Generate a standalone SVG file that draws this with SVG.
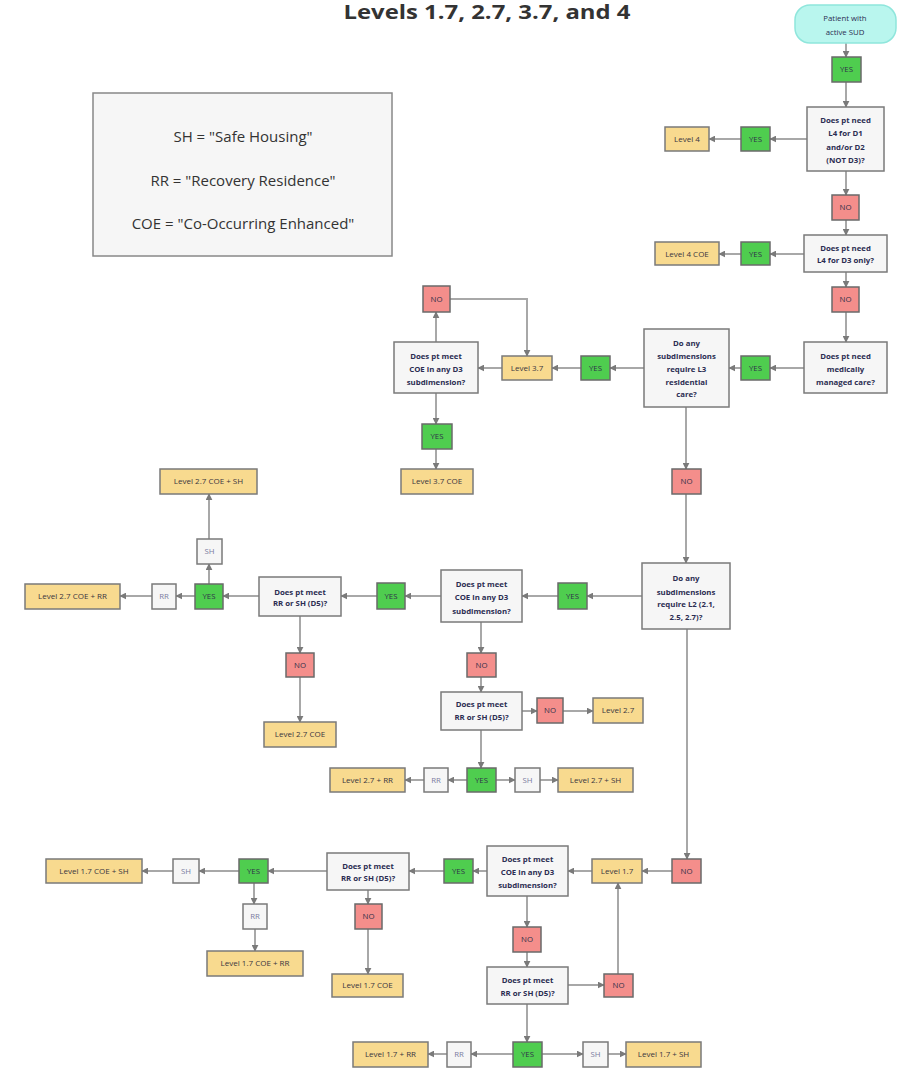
<svg xmlns="http://www.w3.org/2000/svg" width="897" height="1074" viewBox="0 0 897 1074">
<defs>
<marker id="arr" viewBox="0 0 10 10" refX="9" refY="5" markerWidth="7" markerHeight="7" markerUnits="userSpaceOnUse" orient="auto">
<path d="M0,0 L10,5 L0,10 z" fill="#7a7a7a"/>
</marker>
</defs>
<style>
text{font-family:"Open Sans","Liberation Sans",sans-serif;text-anchor:middle}
.q rect{fill:#f6f6f6;stroke:#7a7a7a;stroke-width:1.5}
.q text{font-size:7.8px;font-weight:bold;fill:#2b2d52}
.yes rect{fill:#4fcd4f;stroke:#6a6a6a;stroke-width:1.5}
.no rect{fill:#f48e8b;stroke:#6a6a6a;stroke-width:1.5}
.yes text,.no text{font-size:7.8px;fill:#30304a}
.lv rect{fill:#f8da8f;stroke:#7a7a7a;stroke-width:1.5}
.lv text{font-size:8px;fill:#3a3540}
.hs rect{fill:#f6f6f6;stroke:#7a7a7a;stroke-width:1.5}
.hs text{font-size:7.8px;fill:#7a7ca0}
.st rect{fill:#b9f6ee;stroke:#8fe6dc;stroke-width:1.5}
.st text{font-size:7.8px;fill:#2b2d52}
#connectors path{fill:none;stroke:#a8a8a8;stroke-width:2;marker-end:url(#arr)}
.leg text{font-size:15px;fill:#333}
</style>
<rect width="897" height="1074" fill="#ffffff"/>
<text x="487" y="19" font-size="19" font-weight="bold" fill="#333" textLength="287" lengthAdjust="spacingAndGlyphs">Levels 1.7, 2.7, 3.7, and 4</text>

<g id="legend" class="leg">
<rect x="93" y="93" width="299" height="163" fill="#f6f6f6" stroke="#888" stroke-width="1.5"/>
<text x="243" y="142">SH = "Safe Housing"</text>
<text x="243" y="186">RR = "Recovery Residence"</text>
<text x="243" y="229">COE = "Co-Occurring Enhanced"</text>
</g>

<g id="connectors">
<path d="M846,43 V57"/>
<path d="M846,82 V107"/>
<path d="M807,139 H770"/>
<path d="M741,139 H709"/>
<path d="M846,171 V195"/>
<path d="M846,220 V235"/>
<path d="M804,254 H770"/>
<path d="M741,254 H719"/>
<path d="M846,272 V287"/>
<path d="M846,312 V342"/>
<path d="M804,368 H770"/>
<path d="M741,368 H729"/>
<path d="M644,368 H610"/>
<path d="M581,368 H552"/>
<path d="M502,368 H478"/>
<path d="M436,342 V312"/>
<path d="M450,299 H527 V356"/>
<path d="M436,393 V424"/>
<path d="M436,449 V469"/>
<path d="M686,407 V469"/>
<path d="M686,494 V563"/>
<path d="M642,596 H587"/>
<path d="M558,596 H522"/>
<path d="M441,596 H405"/>
<path d="M377,596 H341"/>
<path d="M259,596 H223"/>
<path d="M195,596 H176"/>
<path d="M152,596 H120"/>
<path d="M209,584 V564"/>
<path d="M209,539 V494"/>
<path d="M300,616 V653"/>
<path d="M300,677 V722"/>
<path d="M481,622 V653"/>
<path d="M481,677 V692"/>
<path d="M522,711 H537"/>
<path d="M563,711 H593"/>
<path d="M481,730 V768"/>
<path d="M467,780 H448"/>
<path d="M424,780 H405"/>
<path d="M496,780 H515"/>
<path d="M540,780 H558"/>
<path d="M687,629 V859"/>
<path d="M672,871 H642"/>
<path d="M592,871 H568"/>
<path d="M487,871 H473"/>
<path d="M444,871 H409"/>
<path d="M327,871 H268"/>
<path d="M239,871 H199"/>
<path d="M173,871 H142"/>
<path d="M254,883 V904"/>
<path d="M255,929 V951"/>
<path d="M368,890 V904"/>
<path d="M368,929 V974"/>
<path d="M527,896 V927"/>
<path d="M527,952 V967"/>
<path d="M568,985 H604"/>
<path d="M618,974 V883"/>
<path d="M527,1004 V1042"/>
<path d="M513,1054 H471"/>
<path d="M447,1054 H428"/>
<path d="M542,1054 H583"/>
<path d="M608,1054 H626"/>
</g>

<g id="start" class="st"><rect x="795" y="5" width="101" height="38" rx="15"/><text x="845" y="21">Patient with</text><text x="845" y="35">active SUD</text></g>
<g id="yes1" class="yes"><rect x="832" y="57" width="29" height="25"/><text x="846.5" y="72">YES</text></g>
<g id="q1" class="q"><rect x="807" y="107" width="77" height="64"/><text x="845.5" y="123">Does pt need</text><text x="845.5" y="136">L4 for D1</text><text x="845.5" y="150">and/or D2</text><text x="845.5" y="163">(NOT D3)?</text></g>
<g id="yes2" class="yes"><rect x="741" y="127" width="29" height="24"/><text x="755.5" y="142">YES</text></g>
<g id="lv4" class="lv"><rect x="665" y="127" width="44" height="24"/><text x="687" y="142">Level 4</text></g>
<g id="no1" class="no"><rect x="832" y="195" width="27" height="25"/><text x="845.5" y="210">NO</text></g>
<g id="q2" class="q"><rect x="804" y="235" width="83" height="37"/><text x="845.5" y="251">Does pt need</text><text x="845.5" y="263">L4 for D3 only?</text></g>
<g id="yes3" class="yes"><rect x="741" y="242" width="29" height="23"/><text x="755.5" y="257">YES</text></g>
<g id="lv4coe" class="lv"><rect x="655" y="242" width="64" height="23"/><text x="687" y="257">Level 4 COE</text></g>
<g id="no2" class="no"><rect x="832" y="287" width="27" height="25"/><text x="845.5" y="302">NO</text></g>
<g id="qmed" class="q"><rect x="804" y="342" width="83" height="51"/><text x="845.5" y="359">Does pt need</text><text x="845.5" y="372">medically</text><text x="845.5" y="385">managed care?</text></g>
<g id="yes4" class="yes"><rect x="741" y="356" width="29" height="24"/><text x="755.5" y="371">YES</text></g>
<g id="ql3" class="q"><rect x="644" y="329" width="85" height="78"/><text x="686.5" y="346">Do any</text><text x="686.5" y="359">subdimensions</text><text x="686.5" y="372">require L3</text><text x="686.5" y="385">residential</text><text x="686.5" y="397">care?</text></g>
<g id="yes5" class="yes"><rect x="581" y="356" width="29" height="24"/><text x="595.5" y="371">YES</text></g>
<g id="lv37" class="lv"><rect x="502" y="356" width="50" height="24"/><text x="527" y="371">Level 3.7</text></g>
<g id="qcoe3" class="q"><rect x="394" y="342" width="84" height="51"/><text x="436" y="359">Does pt meet</text><text x="436" y="372">COE in any D3</text><text x="436" y="385">subdimension?</text></g>
<g id="no3" class="no"><rect x="423" y="286" width="27" height="26"/><text x="436.5" y="302">NO</text></g>
<g id="yes6" class="yes"><rect x="422" y="424" width="30" height="25"/><text x="437" y="439">YES</text></g>
<g id="lv37coe" class="lv"><rect x="401" y="469" width="72" height="25"/><text x="437" y="484">Level 3.7 COE</text></g>
<g id="no4" class="no"><rect x="672" y="469" width="29" height="25"/><text x="686.5" y="484">NO</text></g>

<g id="ql2" class="q"><rect x="642" y="563" width="88" height="66"/><text x="686" y="581">Do any</text><text x="686" y="595">subdimensions</text><text x="686" y="607">require L2 (2.1,</text><text x="686" y="620">2.5, 2.7)?</text></g>
<g id="yes7" class="yes"><rect x="558" y="583" width="29" height="26"/><text x="572.5" y="599">YES</text></g>
<g id="qcoe2" class="q"><rect x="441" y="570" width="81" height="52"/><text x="481.5" y="587">Does pt meet</text><text x="481.5" y="600">COE in any D3</text><text x="481.5" y="614">subdimension?</text></g>
<g id="yes8" class="yes"><rect x="377" y="583" width="28" height="26"/><text x="391" y="599">YES</text></g>
<g id="qrr2" class="q"><rect x="259" y="577" width="82" height="39"/><text x="300" y="595">Does pt meet</text><text x="300" y="606">RR or SH (D5)?</text></g>
<g id="yes9" class="yes"><rect x="195" y="584" width="28" height="25"/><text x="209" y="599">YES</text></g>
<g id="rr1" class="hs"><rect x="152" y="584" width="24" height="25"/><text x="164" y="599">RR</text></g>
<g id="lv27coerr" class="lv"><rect x="25" y="584" width="95" height="25"/><text x="72.5" y="599">Level 2.7 COE + RR</text></g>
<g id="sh1" class="hs"><rect x="197" y="539" width="25" height="25"/><text x="209.5" y="554">SH</text></g>
<g id="lv27coesh" class="lv"><rect x="160" y="469" width="97" height="25"/><text x="208.5" y="484">Level 2.7 COE + SH</text></g>
<g id="no5" class="no"><rect x="286" y="653" width="28" height="24"/><text x="300" y="668">NO</text></g>
<g id="lv27coe" class="lv"><rect x="264" y="722" width="72" height="25"/><text x="300" y="737">Level 2.7 COE</text></g>
<g id="no6" class="no"><rect x="467" y="653" width="29" height="24"/><text x="481.5" y="668">NO</text></g>
<g id="qrr2b" class="q"><rect x="441" y="692" width="81" height="38"/><text x="481.5" y="707">Does pt meet</text><text x="481.5" y="720">RR or SH (D5)?</text></g>
<g id="no7" class="no"><rect x="537" y="698" width="26" height="25"/><text x="550" y="713">NO</text></g>
<g id="lv27" class="lv"><rect x="593" y="698" width="50" height="25"/><text x="618" y="713">Level 2.7</text></g>
<g id="yes10" class="yes"><rect x="467" y="768" width="29" height="24"/><text x="481.5" y="783">YES</text></g>
<g id="rr2" class="hs"><rect x="424" y="768" width="24" height="24"/><text x="436" y="783">RR</text></g>
<g id="lv27rr" class="lv"><rect x="330" y="768" width="75" height="24"/><text x="367.5" y="783">Level 2.7 + RR</text></g>
<g id="sh2" class="hs"><rect x="515" y="768" width="25" height="24"/><text x="527.5" y="783">SH</text></g>
<g id="lv27sh" class="lv"><rect x="558" y="768" width="75" height="24"/><text x="595.5" y="783">Level 2.7 + SH</text></g>

<g id="no8" class="no"><rect x="672" y="859" width="29" height="24"/><text x="686.5" y="874">NO</text></g>
<g id="lv17" class="lv"><rect x="592" y="859" width="50" height="24"/><text x="617" y="874">Level 1.7</text></g>
<g id="qcoe1" class="q"><rect x="487" y="846" width="81" height="50"/><text x="527.5" y="862">Does pt meet</text><text x="527.5" y="875">COE in any D3</text><text x="527.5" y="888">subdimension?</text></g>
<g id="yes11" class="yes"><rect x="444" y="859" width="29" height="24"/><text x="458.5" y="874">YES</text></g>
<g id="qrr1" class="q"><rect x="327" y="853" width="82" height="37"/><text x="368" y="869">Does pt meet</text><text x="368" y="881">RR or SH (D5)?</text></g>
<g id="yes12" class="yes"><rect x="239" y="859" width="29" height="24"/><text x="253.5" y="874">YES</text></g>
<g id="sh3" class="hs"><rect x="173" y="859" width="26" height="24"/><text x="186" y="874">SH</text></g>
<g id="lv17coesh" class="lv"><rect x="46" y="859" width="96" height="24"/><text x="94" y="874">Level 1.7 COE + SH</text></g>
<g id="rr3" class="hs"><rect x="243" y="904" width="24" height="25"/><text x="255" y="919">RR</text></g>
<g id="lv17coerr" class="lv"><rect x="207" y="951" width="96" height="25"/><text x="255" y="966">Level 1.7 COE + RR</text></g>
<g id="no9" class="no"><rect x="355" y="904" width="27" height="25"/><text x="368.5" y="919">NO</text></g>
<g id="lv17coe" class="lv"><rect x="332" y="974" width="71" height="23"/><text x="367.5" y="988">Level 1.7 COE</text></g>
<g id="no10" class="no"><rect x="513" y="927" width="28" height="25"/><text x="527" y="942">NO</text></g>
<g id="qrr1b" class="q"><rect x="487" y="967" width="81" height="37"/><text x="527.5" y="983">Does pt meet</text><text x="527.5" y="996">RR or SH (D5)?</text></g>
<g id="no11" class="no"><rect x="604" y="974" width="29" height="23"/><text x="618.5" y="988">NO</text></g>
<g id="yes13" class="yes"><rect x="513" y="1042" width="29" height="25"/><text x="527.5" y="1057">YES</text></g>
<g id="rr4" class="hs"><rect x="447" y="1042" width="24" height="25"/><text x="459" y="1057">RR</text></g>
<g id="lv17rr" class="lv"><rect x="353" y="1042" width="75" height="25"/><text x="390.5" y="1057">Level 1.7 + RR</text></g>
<g id="sh4" class="hs"><rect x="583" y="1042" width="25" height="25"/><text x="595.5" y="1057">SH</text></g>
<g id="lv17sh" class="lv"><rect x="626" y="1042" width="75" height="25"/><text x="663.5" y="1057">Level 1.7 + SH</text></g>
</svg>
